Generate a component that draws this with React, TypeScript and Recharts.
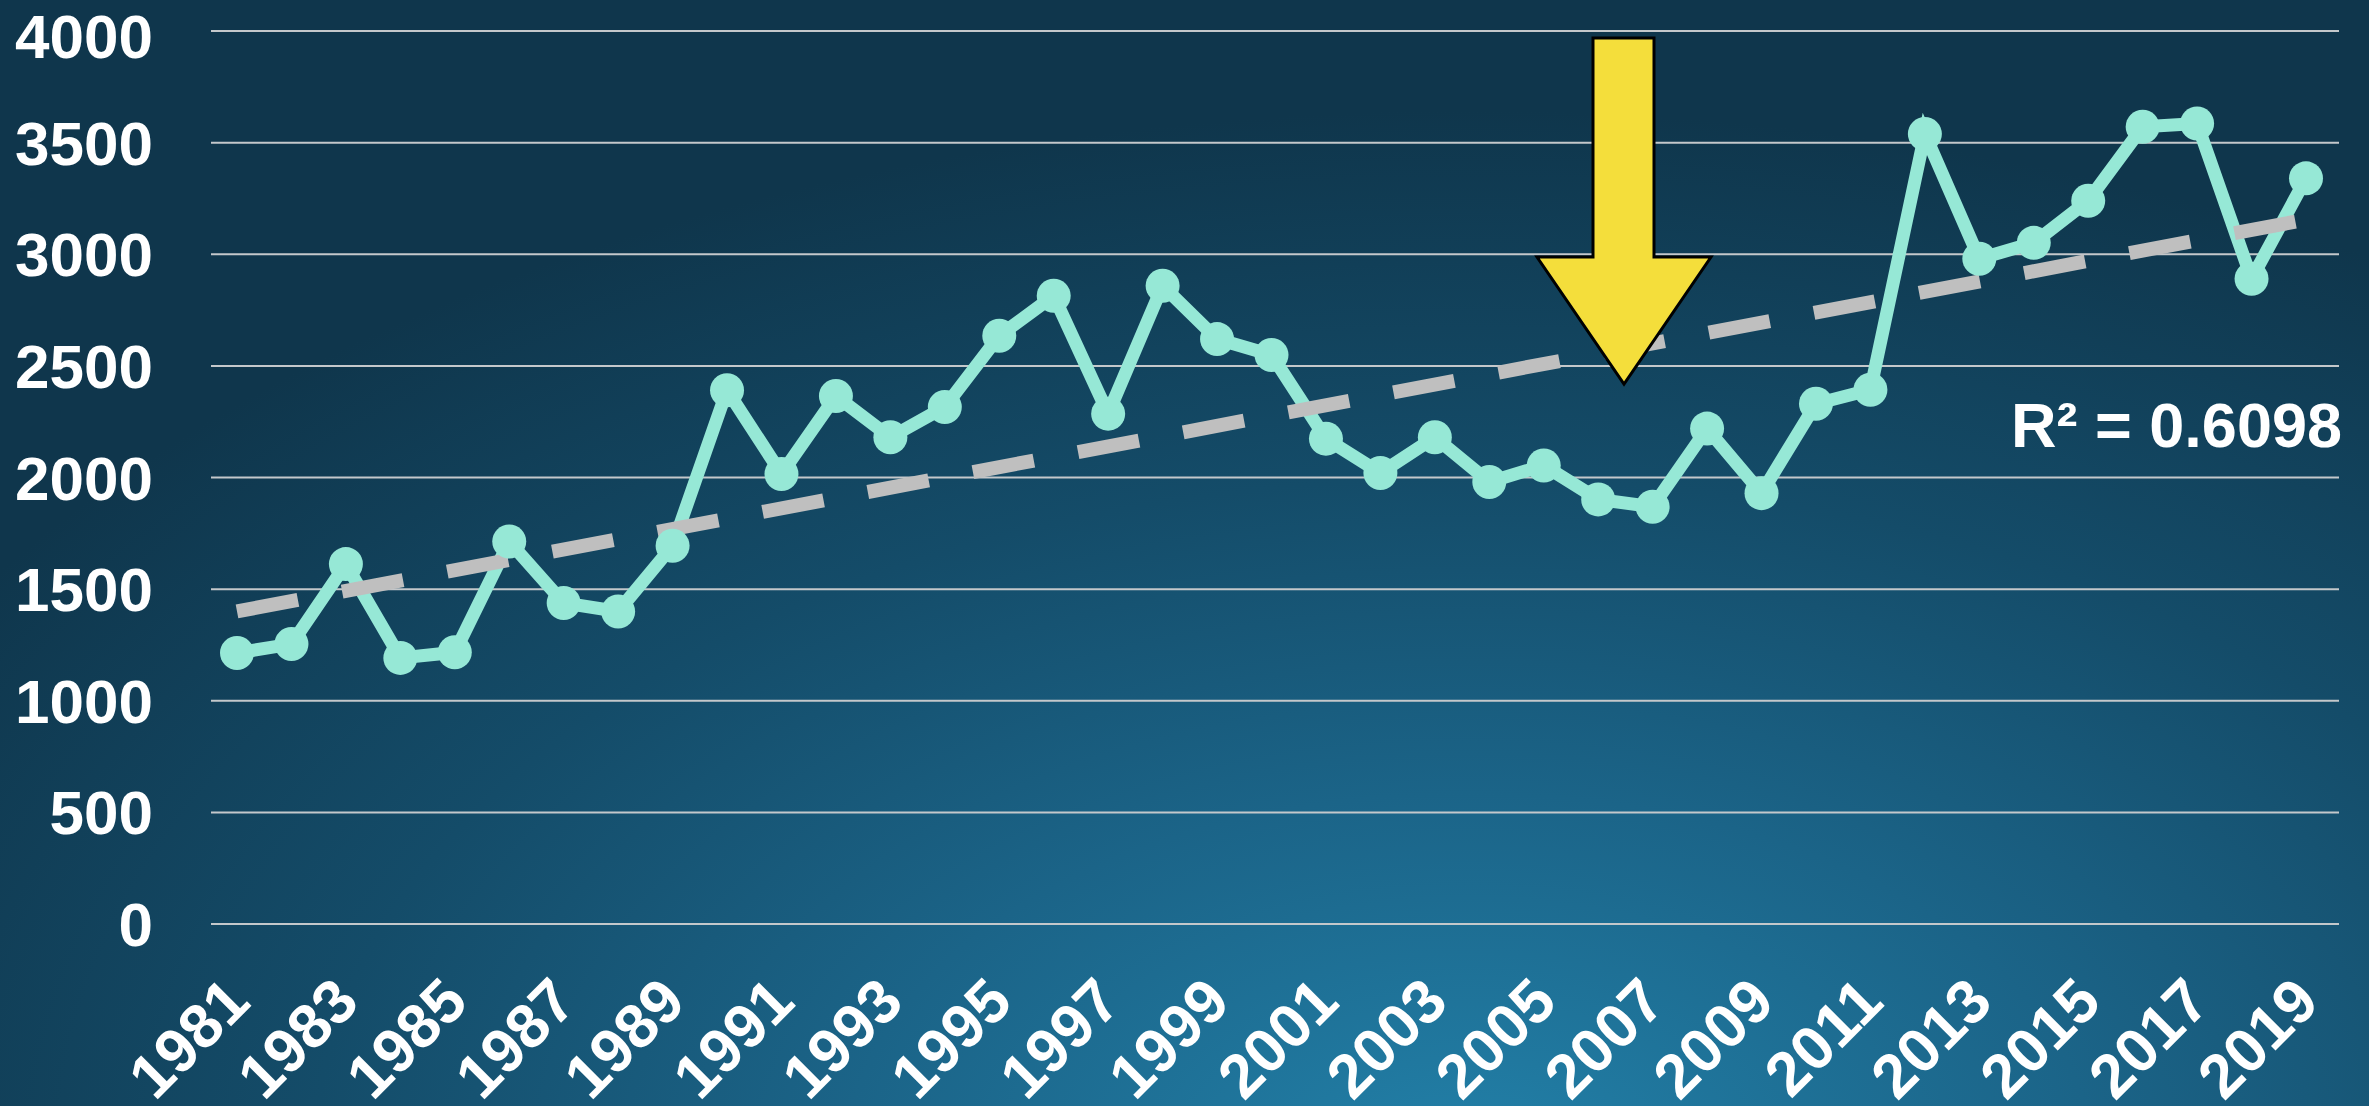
import { LineChart, Line, XAxis, YAxis, CartesianGrid } from 'recharts'

const years = [
  "1981", "1982", "1983", "1984", "1985", "1986", "1987", "1988", "1989", "1990",
  "1991", "1992", "1993", "1994", "1995", "1996", "1997", "1998", "1999", "2000",
  "2001", "2002", "2003", "2004", "2005", "2006", "2007", "2008", "2009", "2010",
  "2011", "2012", "2013", "2014", "2015", "2016", "2017", "2018", "2019",
]

const values = [
  1214, 1254, 1612, 1192, 1217, 1713, 1438, 1400, 1694, 2391,
  2016, 2365, 2180, 2316, 2635, 2814, 2286, 2859, 2620, 2549,
  2174, 2020, 2180, 1980, 2054, 1902, 1869, 2219, 1930, 2330,
  2393, 3539, 2980, 3051, 3240, 3571, 3586, 2890, 3340,
]

// trendline ends (first and last year)
const trendEnds = [1400, 3155]

const yTicks = [0, 500, 1000, 1500, 2000, 2500, 3000, 3500, 4000]

const rSquared = "R² = 0.6098"

const data = years.map((year, i) => ({
  year,
  value: values[i],
  trend: i === 0 ? trendEnds[0] : i === years.length - 1 ? trendEnds[1] : null,
}))

const FONT = "'Liberation Sans', Arial, sans-serif"

function YearTick({ x, y, payload }: any) {
  return (
    <text
      x={x}
      y={y}
      transform={`rotate(-45 ${x} ${y})`}
      textAnchor="end"
      dy="0.355em"
      fill="#ffffff"
      fontSize={62}
      fontWeight="bold"
      fontFamily={FONT}
    >
      {payload.value}
    </text>
  )
}

export default function App() {
  return (
    <div
      style={{
        position: "absolute",
        left: 0,
        top: 0,
        width: 2369,
        height: 1106,
        overflow: "hidden",
        background:
          "radial-gradient(ellipse 75% 95% at 62% 105%, #2280a8 0%, #1b6488 35%, #144c69 65%, #0f364c 100%)",
      }}
    >
      <LineChart
        width={2369}
        height={1106}
        data={data}
        margin={{ top: 31, right: 30, bottom: 0, left: 0 }}
      >
        <CartesianGrid vertical={false} stroke="#c4c8cb" strokeWidth={2} />
        <XAxis
          dataKey="year"
          interval={1}
          height={182}
          padding={{ left: 26, right: 33 }}
          axisLine={false}
          tickLine={false}
          tickSize={0}
          tickMargin={65}
          tick={<YearTick />}
        />
        <YAxis
          domain={[0, 4000]}
          ticks={yTicks}
          width={211}
          axisLine={false}
          tickLine={false}
          tickSize={0}
          tickMargin={58}
          tick={{ fill: "#ffffff", fontSize: 62, fontWeight: "bold", fontFamily: FONT }}
        />
        <Line
          dataKey="value"
          stroke="#96e8d6"
          strokeWidth={13}
          dot={{ r: 17, fill: "#96e8d6", stroke: "none" }}
          activeDot={false}
          isAnimationActive={false}
        />
        <Line
          dataKey="trend"
          connectNulls
          stroke="#bfbfbf"
          strokeWidth={14}
          strokeDasharray="62 45"
          strokeLinecap="butt"
          dot={false}
          activeDot={false}
          isAnimationActive={false}
        />
      </LineChart>
      <svg
        width={2369}
        height={1106}
        style={{ position: "absolute", left: 0, top: 0, pointerEvents: "none" }}
      >
        <polygon
          points="1593,38 1654,38 1654,257 1711,257 1624,384 1537,257 1593,257"
          fill="#f4de3b"
          stroke="#000000"
          strokeWidth={3}
          strokeLinejoin="miter"
        />
        <text
          x={2342}
          y={447}
          textAnchor="end"
          fill="#ffffff"
          fontSize={63}
          fontWeight="bold"
          fontFamily={FONT}
        >
          {rSquared}
        </text>
      </svg>
    </div>
  )
}
